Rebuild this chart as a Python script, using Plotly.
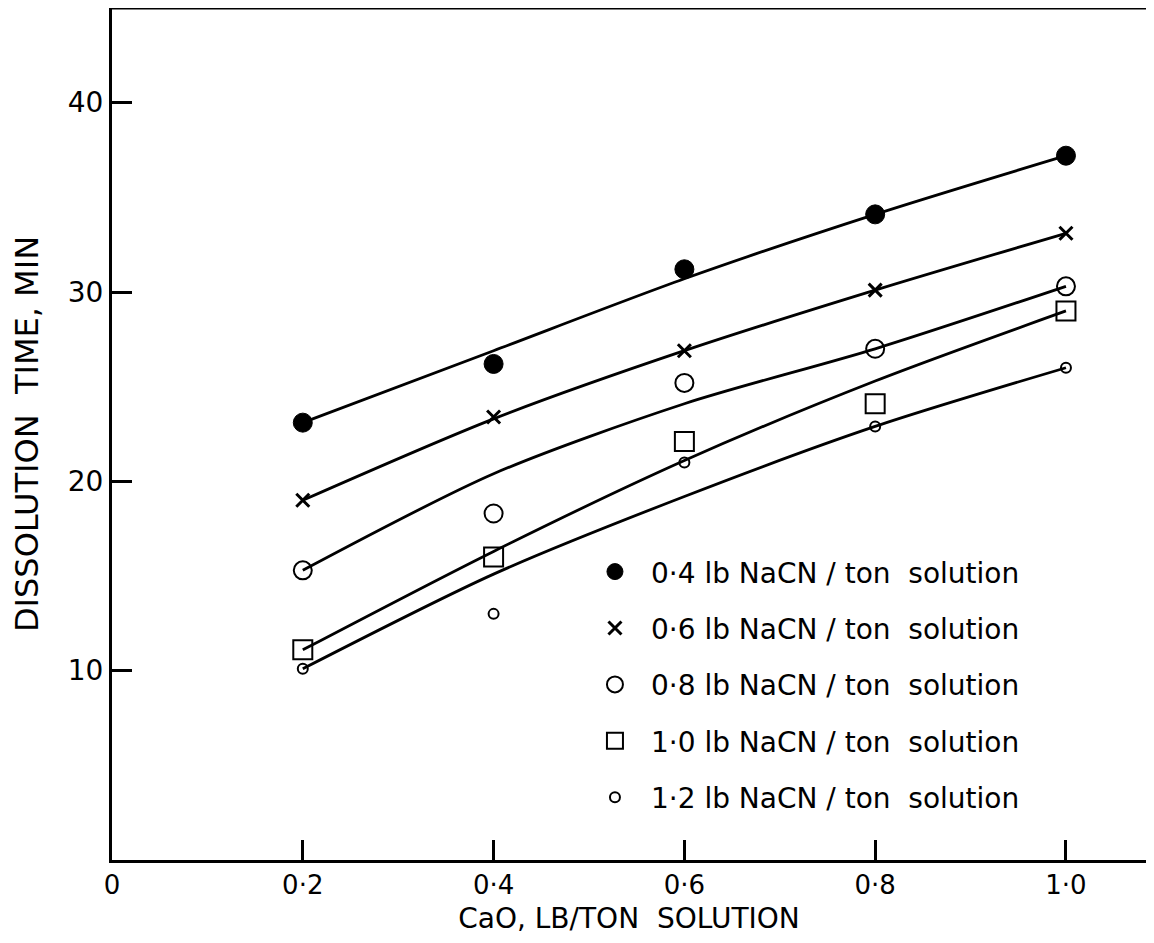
import plotly.graph_objects as go

# ---- data ----
cao = [0.2, 0.4, 0.6, 0.8, 1.0]

series_names = [
    "0·4 lb NaCN / ton  solution",
    "0·6 lb NaCN / ton  solution",
    "0·8 lb NaCN / ton  solution",
    "1·0 lb NaCN / ton  solution",
    "1·2 lb NaCN / ton  solution",
]

# measured points
nacn_04 = [23.1, 26.2, 31.2, 34.1, 37.2]
nacn_06 = [19.0, 23.4, 26.9, 30.1, 33.1]
nacn_08 = [15.3, 18.3, 25.2, 27.0, 30.3]
nacn_10 = [11.1, 16.0, 22.1, 24.1, 29.0]
nacn_12 = [10.1, 13.0, 21.0, 22.9, 26.0]

# smoothed (hand-drawn) curves read at the same CaO values
fit_04 = [23.1, 26.9, 30.7, 34.1, 37.2]
fit_06 = [19.0, 23.3, 26.9, 30.1, 33.1]
fit_08 = [15.3, 20.4, 24.1, 27.0, 30.3]
fit_10 = [11.1, 16.3, 21.1, 25.3, 29.0]
fit_12 = [10.1, 15.1, 19.2, 22.9, 26.0]

x_tickvals = [0, 0.2, 0.4, 0.6, 0.8, 1.0]
x_ticktext = ["0", "0·2", "0·4", "0·6", "0·8", "1·0"]
y_tickvals = [10, 20, 30, 40]
y_ticktext = ["10", "20", "30", "40"]

points = [nacn_04, nacn_06, nacn_08, nacn_10, nacn_12]
fits = [fit_04, fit_06, fit_08, fit_10, fit_12]

marker_styles = [
    dict(symbol="circle", size=19, color="black", line=dict(color="black", width=1)),
    dict(symbol="x-thin", size=13, color="black", line=dict(color="black", width=3)),
    dict(symbol="circle-open", size=18, color="black", line=dict(color="black", width=2)),
    dict(symbol="square-open", size=19, color="black", line=dict(color="black", width=2)),
    dict(symbol="circle-open", size=10, color="black", line=dict(color="black", width=2)),
]

FONT = "DejaVu Sans"

fig = go.Figure()

for fy in fits:
    fig.add_trace(go.Scatter(
        x=cao, y=fy, mode="lines",
        line=dict(color="black", width=2.8, shape="spline", smoothing=0.8),
        showlegend=False, hoverinfo="skip",
    ))

for i, py in enumerate(points):
    fig.add_trace(go.Scatter(
        x=cao, y=py, mode="markers",
        marker=marker_styles[i],
        name=series_names[i],
        legendgroup=f"g{i}",
        cliponaxis=False,
    ))

# page body has an 8px margin; figure sized so the page does not scroll
fig.update_layout(
    width=1138, height=927,
    margin=dict(l=104, r=0, t=0, b=75),
    paper_bgcolor="white", plot_bgcolor="white",
    font=dict(family=FONT, color="black", size=26),
    showlegend=True,
    legend=dict(
        x=0.4516, y=0.3675, xanchor="left", yanchor="top",
        bgcolor="rgba(0,0,0,0)",
        font=dict(family=FONT, size=28, color="black"),
        tracegroupgap=17,
        itemsizing="trace",
        itemwidth=62,
    ),
    xaxis=dict(
        range=[0, 1.0839],
        tickvals=x_tickvals, ticktext=x_ticktext,
        ticks="inside", ticklen=20, tickwidth=2.5, tickcolor="black",
        showline=True, linecolor="black", linewidth=3,
        showgrid=False, zeroline=False,
        tickfont=dict(family=FONT, size=26, color="black"),
        title=dict(text="CaO, LB/TON  SOLUTION",
                   font=dict(family=FONT, size=28, color="black"), standoff=14),
    ),
    yaxis=dict(
        range=[0, 45.0],
        tickvals=y_tickvals, ticktext=y_ticktext,
        ticks="inside", ticklen=20, tickwidth=2.5, tickcolor="black",
        showline=True, linecolor="black", linewidth=3,
        showgrid=False, zeroline=False,
        tickfont=dict(family=FONT, size=28, color="black"),
        title=dict(text="DISSOLUTION  TIME, MIN",
                   font=dict(family=FONT, size=32, color="black"), standoff=22),
    ),
    shapes=[dict(type="line", xref="paper", yref="paper", x0=0, x1=1, y0=1, y1=1,
                 line=dict(color="black", width=3))],
)

fig.write_html("out.html")
